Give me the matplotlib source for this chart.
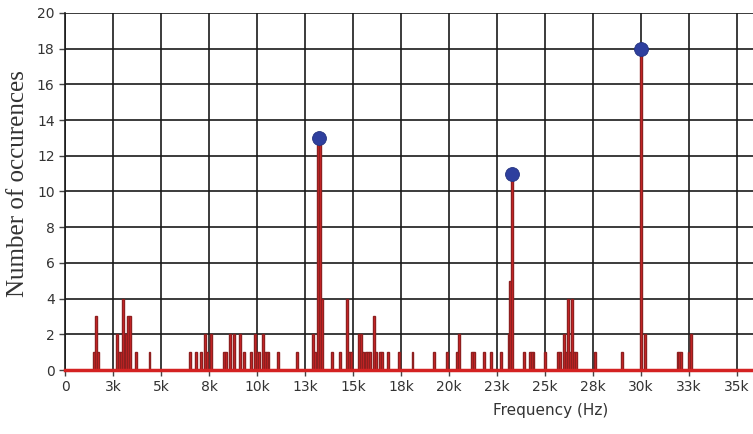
import matplotlib
matplotlib.use("Agg")
import matplotlib.pyplot as plt

# Histogram bins (Hz) and counts
freqs = [1500, 1600, 1700, 2700, 2800, 2900, 3000, 3100, 3200, 3300, 3400, 3700,
         4400, 6500, 6800, 7100, 7300, 7400, 7600, 8300, 8400, 8600, 8800, 9100,
         9300, 9700, 9900, 10000, 10100, 10300, 10400, 10500, 10600, 11100, 12100,
         12900, 13000, 13200, 13300, 13400, 13900, 14300, 14700, 14800, 14900,
         15300, 15400, 15500, 15700, 15800, 15900, 16100, 16200, 16400, 16500,
         16800, 17400, 18100, 19200, 19900, 20400, 20500, 21200, 21300, 21800,
         22200, 22700, 23100, 23200, 23300, 23900, 24200, 24300, 24400, 25000,
         25700, 25800, 26000, 26100, 26200, 26300, 26400, 26500, 26600, 27600,
         29000, 30000, 30200, 31900, 32000, 32100, 32500, 32600]
counts = [1, 3, 1, 2, 1, 1, 4, 1, 2, 3, 3, 1,
          1, 1, 1, 1, 2, 1, 2, 1, 1, 2, 2, 2,
          1, 1, 2, 1, 1, 2, 1, 1, 1, 1, 1,
          2, 1, 13, 13, 4, 1, 1, 4, 1, 1,
          2, 2, 1, 1, 1, 1, 3, 1, 1, 1,
          1, 1, 1, 1, 1, 1, 2, 1, 1, 1,
          1, 1, 2, 5, 11, 1, 1, 1, 1, 1,
          1, 1, 2, 1, 4, 1, 4, 1, 1, 1,
          1, 18, 2, 1, 1, 1, 1, 2]

# Marked peaks
peak_freqs = [13250, 23300, 30000]
peak_counts = [13, 11, 18]

xtick_vals = [0, 2500, 5000, 7500, 10000, 12500, 15000, 17500, 20000, 22500,
              25000, 27500, 30000, 32500, 35000]
xtick_labels = ["0", "3k", "5k", "8k", "10k", "13k", "15k", "18k", "20k", "23k",
                "25k", "28k", "30k", "33k", "35k"]
ytick_vals = list(range(0, 21, 2))


def main():
    fig = plt.figure(figsize=(7.53, 4.34), dpi=100)
    # axes runs past the right edge of the picture, like the cropped original
    ax = fig.add_axes([65 / 753, 64 / 434, 972 / 753, 357 / 434])

    ax.bar(freqs, counts, width=100, color="#e3262a", edgecolor="#8e1f1f",
           linewidth=1.0, zorder=3)
    ax.axhline(0, color="#d42222", lw=2.5, zorder=4, clip_on=False)
    ax.plot(peak_freqs, peak_counts, "o", color="#2e3f9e", markersize=10,
            markeredgecolor="#24337f", markeredgewidth=0.6, zorder=5)

    ax.set_xlim(0, 50625)
    ax.set_ylim(0, 20)
    ax.set_xticks(xtick_vals)
    ax.set_xticklabels(xtick_labels, fontsize=10, color="#333333")
    ax.set_yticks(ytick_vals)
    ax.set_yticklabels([str(v) for v in ytick_vals], fontsize=10, color="#333333")
    ax.tick_params(axis="both", length=4, width=1, color="#444444")
    ax.tick_params(axis="x", pad=3)

    ax.grid(True, color="#1a1a1a", lw=1.2, zorder=1)
    ax.set_axisbelow(True)
    for side in ["top", "right"]:
        ax.spines[side].set_visible(False)
    ax.spines["left"].set_color("#1a1a1a")
    ax.spines["left"].set_linewidth(1.2)
    ax.spines["bottom"].set_visible(False)

    ax.set_xlabel("Frequency (Hz)", fontsize=11, color="#333333", labelpad=7)
    fig.text(18 / 753, 1 - 184 / 434, "Number of occurences", rotation=90,
             family="Liberation Serif", fontsize=18, color="#333333",
             ha="center", va="center")

    fig.savefig("out.png", dpi=100)


if __name__ == "__main__":
    main()
